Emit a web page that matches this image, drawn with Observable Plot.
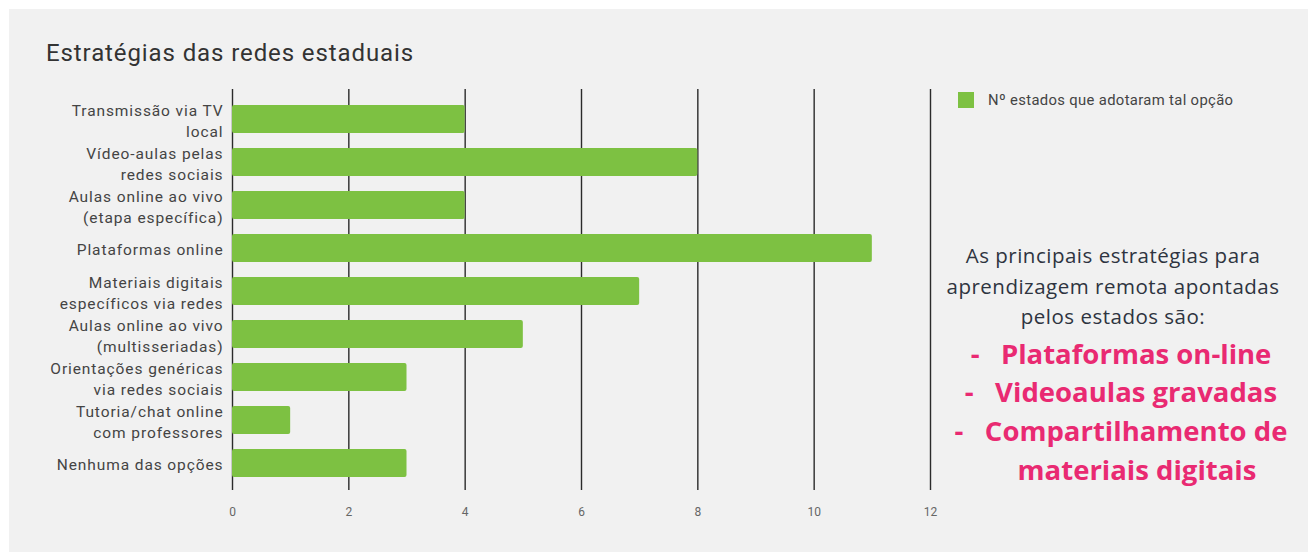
<!DOCTYPE html>
<html>
<head>
<meta charset="utf-8">
<script src="https://cdn.jsdelivr.net/npm/d3@7"></script>
<script src="https://cdn.jsdelivr.net/npm/@observablehq/plot@0.6"></script>
<style>
  html, body { margin: 0; padding: 0; background: #ffffff; }
  #panel { position: absolute; left: 9px; top: 9px; width: 1299px; height: 543px; background: #f1f1f1; overflow: hidden; }
  #title { position: absolute; left: 46px; top: 39px; font-family: Roboto, sans-serif; font-size: 24px; letter-spacing: 0.9px; color: #333; white-space: nowrap; }
  #chart { position: absolute; left: 0; top: 80px; }
  #legend { position: absolute; left: 958px; top: 91px; font-family: Roboto, sans-serif; font-size: 14.8px; letter-spacing: 0.35px; color: #444; display: flex; align-items: center; white-space: nowrap; }
  #legend .sw { width: 16px; height: 16px; background: #7dc142; margin-right: 14px; }
  .note { position: absolute; left: 913px; width: 400px; text-align: center; font-family: "Open Sans", sans-serif; white-space: pre; transform: translateY(-50%); }
  .dark { font-size: 20.5px; letter-spacing: 0.5px; color: #2e3440; }
  .pink { font-size: 27.5px; font-weight: bold; color: #e92a72; }
</style>
</head>
<body>
<div id="panel"></div>
<div id="title">Estratégias das redes estaduais</div>
<div id="chart"></div>
<div id="legend"><div class="sw"></div><span>Nº estados que adotaram tal opção</span></div>
<div class="note dark" style="top:255px">As principais estratégias para</div>
<div class="note dark" style="top:286px">aprendizagem remota apontadas</div>
<div class="note dark" style="top:316px">pelos estados são:</div>
<div class="note pink" style="top:353px;left:921px">-   Plataformas on-line</div>
<div class="note pink" style="top:391px;left:921px">-   Videoaulas gravadas</div>
<div class="note pink" style="top:430px;left:921px">-   Compartilhamento de</div>
<div class="note pink" style="top:469px;left:937px">materiais digitais</div>
<script>
const categories = [
  "Transmissão via TV\nlocal",
  "Vídeo-aulas pelas\nredes sociais",
  "Aulas online ao vivo\n(etapa específica)",
  "Plataformas online",
  "Materiais digitais\nespecíficos via redes",
  "Aulas online ao vivo\n(multisseriadas)",
  "Orientações genéricas\nvia redes sociais",
  "Tutoria/chat online\ncom professores",
  "Nenhuma das opções"
];
const values = [4, 8, 4, 11, 7, 5, 3, 1, 3];
const xTicks = [0, 2, 4, 6, 8, 10, 12];

const data = categories.map((c, i) => ({category: c, value: values[i]}));

const chart = Plot.plot({
  width: 950,
  height: 450,
  marginLeft: 232,
  marginRight: 20,
  marginTop: 9,
  marginBottom: 40,
  style: {background: "transparent", fontFamily: "Roboto, sans-serif"},
  x: {domain: [0, 12], ticks: xTicks},
  y: {domain: categories, range: [7.5, 414.5], padding: 0.356, axis: null},
  marks: [
    Plot.ruleX(xTicks, {stroke: "#2b2b2b", strokeWidth: 1.4}),
    Plot.barX(data, {x: "value", y: "category", fill: "#7dc142", rx: 2}),
    Plot.axisX({ticks: xTicks, tickSize: 0, tickPadding: 17, fontSize: 12, fill: "#666", label: null}),
    Plot.text(data, {x: 0, y: "category", text: "category", textAnchor: "end", dx: -9, fontSize: 15.5, lineHeight: 1.35, fill: "#444"}),
  ]
});
chart.querySelectorAll('g[aria-label="text"] text').forEach(t => { t.style.letterSpacing = "0.9px"; });
document.getElementById("chart").appendChild(chart);
</script>
</body>
</html>
